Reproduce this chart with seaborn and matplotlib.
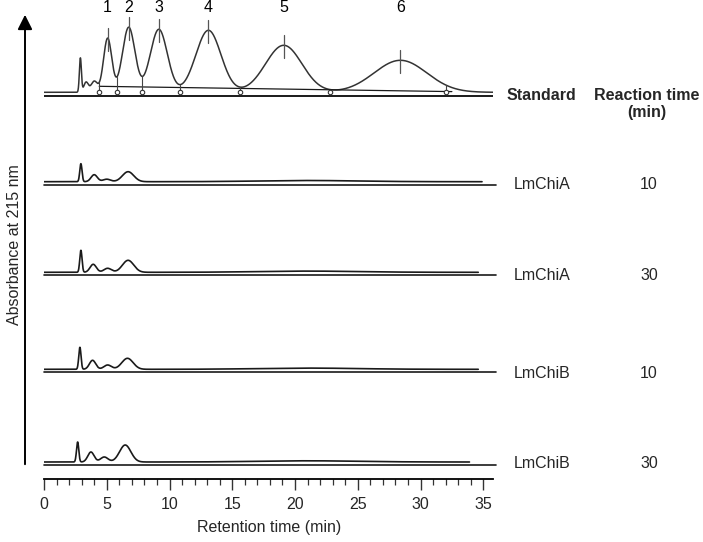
import numpy as np
import pandas as pd
import seaborn as sns
import matplotlib
matplotlib.use('Agg')
import matplotlib.pyplot as plt

# values (heights in px above baseline)
std_labels = ['1', '2', '3', '4', '5', '6']
std_peak_time = [5.07, 6.75, 9.15, 13.1, 19.1, 28.4]
std_peak_height = [54, 65, 63, 62, 47, 32]
std_peak_width = [0.33, 0.5, 0.68, 1.0, 1.45, 2.1]
void_time = [2.9, 3.35, 4.0]
void_height = [34, 10, 11]
void_width = [0.08, 0.18, 0.25]
valley_time = [4.4, 5.8, 7.8, 10.8, 15.6, 22.8, 32.0]
std_end = 35.8

sample_names = ['LmChiA', 'LmChiA', 'LmChiB', 'LmChiB']
reaction_time = ['10', '30', '10', '30']
sample_peak_time = [[2.94, 4.0, 5.0, 6.7],
                    [2.94, 3.92, 5.07, 6.7],
                    [2.86, 3.87, 5.07, 6.65],
                    [2.68, 3.74, 4.8, 6.47]]
sample_peak_height = [[18, 7, 2.5, 10],
                      [22, 8, 4, 12],
                      [22, 9, 4.3, 11],
                      [20, 10, 5, 17]]
sample_peak_width = [0.09, 0.25, 0.3, 0.45]
hump_time, hump_height, hump_width = 21, 1.2, 4
sample_end = [34.9, 34.6, 34.6, 33.9]

# layout: vertical offset of each trace (px from x axis)
std_offset = 386.7
sample_offset = [297.3, 206.7, 109.7, 17]
gap = 3

t = np.linspace(0, 36, 3601)


def chrom(times, heights, widths):
    y = np.zeros_like(t)
    for a, h, w in zip(times, heights, widths):
        y += h * np.exp(-0.5 * ((t - a) / w) ** 2)
    return y


sns.set_theme(style='white')
plt.rcParams['font.family'] = ['Liberation Sans', 'DejaVu Sans']

fig = plt.figure(figsize=(7.03, 5.42), dpi=100)
W, H = 703, 542
ax = fig.add_axes([44 / W, (H - 479) / H, 449.3 / W, 469 / H])
line_col = '#1a1a1a'

# standard
y_std = chrom(void_time + std_peak_time, void_height + std_peak_height,
              void_width + std_peak_width)
m = t <= std_end
df = pd.DataFrame({'t': t[m], 'y': y_std[m] + std_offset})
sns.lineplot(data=df, x='t', y='y', ax=ax, color='#333333', lw=1.1,
             estimator=None, sort=False)
ax.plot([0, std_end], [std_offset - gap - 0.4] * 2, color=line_col, lw=1.4)
ax.plot([valley_time[0], 32.5], [std_offset + 6, std_offset + 0.7],
        color=line_col, lw=0.9)
for v in valley_time:
    yv = np.interp(v, t, y_std)
    ax.plot([v, v], [std_offset, std_offset + yv], color='#444444', lw=0.8)
    ax.plot(v, std_offset + 0.5, marker='o', ms=3.2, mfc='white',
            mec='#333333', mew=0.8)
for lab, pt in zip(std_labels, std_peak_time):
    top = np.interp(pt, t, y_std) + std_offset
    ax.plot([pt, pt], [top - 13, top + 10], color='#555555', lw=0.9)
    ax.text(pt, 471, lab, ha='center', va='center', fontsize=11.5,
            color='black', clip_on=False)

# samples
for i in range(4):
    y = chrom(sample_peak_time[i] + [hump_time],
              sample_peak_height[i] + [hump_height],
              sample_peak_width + [hump_width])
    m = t <= sample_end[i]
    df = pd.DataFrame({'t': t[m], 'y': y[m] + sample_offset[i]})
    sns.lineplot(data=df, x='t', y='y', ax=ax, color=line_col, lw=1.2,
                 estimator=None, sort=False)
    ax.plot([0, 36], [sample_offset[i] - gap] * 2, color=line_col, lw=1.2,
            clip_on=False)

ax.set_xlim(0, 35.8)
ax.set_ylim(0, 469)
for s in ['left', 'right', 'top']:
    ax.spines[s].set_visible(False)
ax.spines['bottom'].set_color('black')
ax.spines['bottom'].set_linewidth(1.3)
ax.set_xticks(range(0, 36, 5))
ax.set_xticks(range(0, 36), minor=True)
ax.tick_params(axis='x', which='major', direction='out', length=8, width=1,
               color='#333333', labelsize=11.5, pad=5, bottom=True)
ax.tick_params(axis='x', which='minor', direction='out', length=4, width=0.9,
               color='#333333', bottom=True)
ax.set_yticks([])
ax.set_xlabel('Retention time (min)', fontsize=11.5, labelpad=6)
ax.set_ylabel('')

# y axis arrow and label
ax.annotate('', xy=(25, H - 12), xytext=(25, H - 467),
            xycoords='figure pixels', textcoords='figure pixels',
            arrowprops=dict(arrowstyle='-|>', color='black', lw=1.4,
                            mutation_scale=22))
fig.text(15 / W, 1 - 245 / H, 'Absorbance at 215 nm', rotation=90,
         ha='center', va='center', fontsize=11.5)

# right-hand labels
fig.text(541 / W, 1 - 95 / H, 'Standard', ha='center', va='center',
         fontsize=11.5, fontweight='bold')
fig.text(647 / W, 1 - 95 / H, 'Reaction time', ha='center', va='center',
         fontsize=11.5, fontweight='bold')
fig.text(647 / W, 1 - 112 / H, '(min)', ha='center', va='center',
         fontsize=11.5, fontweight='bold')
label_y = [184, 276, 373, 463]
for name, rt, yy in zip(sample_names, reaction_time, label_y):
    fig.text(542 / W, 1 - yy / H, name, ha='center', va='center', fontsize=11.5)
    fig.text(649 / W, 1 - yy / H, rt, ha='center', va='center', fontsize=11.5)

fig.savefig('out.png', dpi=100)
